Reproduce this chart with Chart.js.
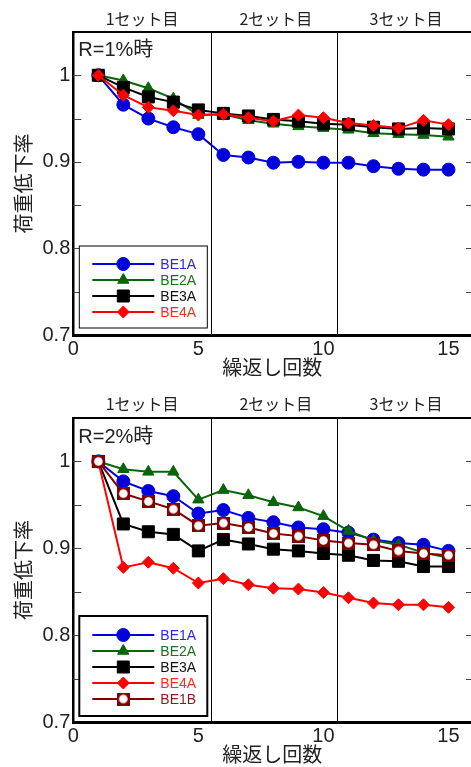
<!DOCTYPE html>
<html>
<head>
<meta charset="utf-8">
<script src="https://cdn.jsdelivr.net/npm/chart.js@4.4.1/dist/chart.umd.min.js"></script>
<style>
html,body{margin:0;padding:0;overflow:hidden;background:#fff;width:471px;height:767px;}
.wrap{position:relative;width:471px;overflow:hidden;}
canvas{display:block;}
</style>
</head>
<body>
<div class="wrap" style="height:383px"><canvas id="c1" width="471" height="383" style="width:471px;height:383px"></canvas></div>
<div class="wrap" style="height:384px"><canvas id="c2" width="471" height="384" style="width:471px;height:384px"></canvas></div>
<script>
// ---------- data ----------
const cycles = [1,2,3,4,5,6,7,8,9,10,11,12,13,14,15];

// R=1%
const r1_BE1A = [1.000,0.966,0.950,0.940,0.932,0.908,0.905,0.899,0.900,0.899,0.899,0.895,0.892,0.891,0.891];
const r1_BE2A = [1.000,0.994,0.985,0.973,0.954,0.955,0.948,0.944,0.941,0.939,0.937,0.933,0.932,0.931,0.929];
const r1_BE3A = [1.000,0.986,0.975,0.969,0.960,0.956,0.953,0.949,0.947,0.944,0.943,0.940,0.938,0.939,0.938];
const r1_BE4A = [1.000,0.977,0.963,0.959,0.954,0.955,0.951,0.947,0.954,0.951,0.945,0.942,0.939,0.948,0.943];

// R=2%
const r2_BE1A = [1.000,0.977,0.966,0.960,0.940,0.944,0.935,0.930,0.924,0.922,0.918,0.910,0.906,0.904,0.897];
const r2_BE2A = [1.000,0.991,0.988,0.988,0.956,0.967,0.961,0.953,0.947,0.937,0.920,0.909,0.904,0.895,0.889];
const r2_BE3A = [1.000,0.928,0.919,0.916,0.897,0.910,0.905,0.899,0.897,0.894,0.892,0.886,0.885,0.879,0.879];
const r2_BE4A = [1.000,0.878,0.884,0.877,0.860,0.865,0.858,0.854,0.853,0.849,0.843,0.837,0.835,0.835,0.832];
const r2_BE1B = [1.000,0.963,0.954,0.945,0.926,0.929,0.924,0.917,0.914,0.909,0.906,0.904,0.897,0.894,0.892];

// axis ticks / labels
const xTickValues = [0,5,10,15];
const xTickLabels = ['0','5','10','15'];
const xMax = 15.9;
const yMajorValues = [0.7,0.8,0.9,1.0];
const yMajorLabels = ['0.7','0.8','0.9','1'];
const yMinorValues = [0.75,0.85,0.95];
const setCenters = [2.75,8.1,13.3];
const setLabels = ['1セット目','2セット目','3セット目'];
const setDividers = [5.5,10.55];
const xTitle = '繰返し回数';
const yTitle = '荷重低下率';
const panelTitles = ['R=1%時','R=2%時'];

// ---------- styles ----------
const LATIN = "'Liberation Sans', 'Noto Sans CJK JP', sans-serif";
const CJK = "'Noto Sans CJK JP', 'Liberation Sans', sans-serif";
const TXT = '#222';

function makeOpenSquare(){
  const c = document.createElement('canvas');
  c.width = 13; c.height = 13;
  const g = c.getContext('2d');
  g.fillStyle = '#800000'; g.fillRect(0,0,13,13);
  g.fillStyle = '#fff'; g.beginPath(); g.arc(6.5,6.5,4.3,0,Math.PI*2); g.fill();
  return c;
}

const styles = {
  BE1A: {color:'#0000dd', text:'#2a2ae0', pointStyle:'circle', radius:6.5},
  BE2A: {color:'#0a640a', text:'#1f6e1f', pointStyle:'triangle', radius:6.5},
  BE3A: {color:'#000000', text:'#111111', pointStyle:'rect', radius:8.5},
  BE4A: {color:'#ff0000', text:'#ff2a2a', pointStyle:'rectRot', radius:6},
  BE1B: {color:'#800000', text:'#8a1a1a', pointStyle:makeOpenSquare(), radius:6.5}
};

function ds(name, values, idx){
  const s = styles[name];
  return {
    label: name,
    data: cycles.map((c,i)=>({x:c, y:values[i]})),
    borderColor: s.color,
    backgroundColor: s.color,
    pointBackgroundColor: s.color,
    pointBorderColor: s.color,
    pointBorderWidth: 1,
    pointStyle: s.pointStyle,
    pointRadius: s.radius,
    borderWidth: 2,
    textColor: s.text,
    order: -idx,
    tension: 0
  };
}

const decor = {
  id: 'decor',
  beforeDatasetsDraw(chart, args, o){
    const {ctx, chartArea: ca, scales} = chart;
    ctx.save();
    ctx.strokeStyle = '#000'; ctx.lineWidth = 1;
    setDividers.forEach(v=>{
      const px = Math.round(scales.x.getPixelForValue(v)) + 0.5;
      ctx.beginPath(); ctx.moveTo(px, ca.top); ctx.lineTo(px, ca.bottom); ctx.stroke();
    });
    ctx.strokeStyle = '#444';
    scales.y.ticks.forEach(t=>{
      if (t.value > 1.04 || t.value < 0.71) return;
      const py = Math.round(scales.y.getPixelForValue(t.value)) + 0.5;
      ctx.beginPath(); ctx.moveTo(ca.left, py); ctx.lineTo(ca.left+8, py); ctx.stroke();
      ctx.beginPath(); ctx.moveTo(ca.right-5, py); ctx.lineTo(ca.right, py); ctx.stroke();
    });
    ctx.restore();
  },
  afterDraw(chart, args, o){
    const {ctx, chartArea: ca} = chart;
    ctx.save();
    // panel title
    ctx.fillStyle = TXT;
    ctx.font = '20px ' + LATIN;
    ctx.textBaseline = 'middle'; ctx.textAlign = 'left';
    ctx.fillText(o.title, ca.left + 5, ca.top + o.titleDy);
    // legend
    const dsets = chart.data.datasets;
    const rowH = 16;
    const h = dsets.length*rowH + o.legPad;
    const x0 = ca.left + 6, y1 = ca.bottom - o.legBottomGap, y0 = y1 - h, w = 128;
    ctx.fillStyle = '#fff'; ctx.fillRect(x0, y0, w, h);
    ctx.lineWidth = o.legBorder; ctx.strokeStyle = '#000';
    ctx.strokeRect(x0, y0, w, h);
    dsets.forEach((d,i)=>{
      const y = y0 + o.legFirst + i*rowH;
      ctx.strokeStyle = d.borderColor; ctx.lineWidth = 2;
      ctx.beginPath(); ctx.moveTo(x0+13, y); ctx.lineTo(x0+75, y); ctx.stroke();
      ctx.fillStyle = d.pointBackgroundColor; ctx.strokeStyle = d.pointBorderColor; ctx.lineWidth = 1;
      Chart.helpers.drawPoint(ctx, {pointStyle: d.pointStyle, radius: d.pointRadius, rotation: 0, borderWidth: 1}, x0+44, y);
      ctx.fillStyle = d.textColor;
      ctx.font = '14px ' + LATIN;
      ctx.textBaseline = 'middle'; ctx.textAlign = 'left';
      ctx.fillText(d.label, x0+81, y+1);
    });
    ctx.restore();
  }
};

function makeChart(id, datasets, p){
  return new Chart(document.getElementById(id), {
    type: 'line',
    data: {datasets},
    plugins: [decor],
    options: {
      responsive: false,
      maintainAspectRatio: false,
      animation: false,
      events: [],
      layout: {autoPadding: false, padding: {left:0, right:0, top:0, bottom:0}},
      plugins: {
        legend: {display:false},
        tooltip: {enabled:false},
        decor: p.decor
      },
      scales: {
        x: {
          type: 'linear', position: 'bottom', min: 0, max: xMax,
          grid: {display:false, drawTicks:false},
          border: {display:true, color:'#000', width:3},
          afterBuildTicks: a => { a.ticks = xTickValues.map(v=>({value:v})); },
          afterFit: a => { a.height = p.bottomH; },
          ticks: {
            autoSkip:false, maxRotation:0, padding: p.xTickPad, color: TXT,
            font: {size:20, family: LATIN},
            callback: (v)=> { const i = xTickValues.indexOf(v); return i>=0 ? xTickLabels[i] : ''; }
          },
          title: {display:true, text:xTitle, color:TXT, font:{size:20, family:CJK}, padding:{top:0,bottom:p.xTitlePad}}
        },
        x2: {
          type: 'linear', position: 'top', min: 0, max: xMax,
          grid: {display:false, drawTicks:false},
          border: {display:true, color:'#000', width:2},
          afterBuildTicks: a => { a.ticks = setCenters.map(v=>({value:v})); },
          afterFit: a => { a.height = p.topH; },
          ticks: {
            autoSkip:false, maxRotation:0, padding: p.setPad, color: TXT,
            font: {size:16, family: CJK},
            callback: (v)=> { const i = setCenters.indexOf(v); return i>=0 ? setLabels[i] : ''; }
          }
        },
        y: {
          type: 'linear', position: 'left', min: 0.7, max: 1.05,
          grid: {display:false, drawTicks:false},
          border: {display:true, color:'#000', width:2.5},
          afterBuildTicks: a => { a.ticks = yMajorValues.concat(yMinorValues).sort((m,n)=>m-n).map(v=>({value:v})); },
          afterFit: a => { a.width = 73.3; },
          ticks: {
            autoSkip:false, padding: 3, color: TXT,
            font: {size:20, family: LATIN},
            callback: (v)=> { const i = yMajorValues.findIndex(m=>Math.abs(m-v)<1e-6); return i>=0 ? yMajorLabels[i] : ''; }
          },
          title: {display:true, text:yTitle, color:TXT, font:{size:20, family:CJK}, padding:{top:11,bottom:0}}
        }
      }
    }
  });
}

makeChart('c1', [
  ds('BE1A', r1_BE1A, 0),
  ds('BE2A', r1_BE2A, 1),
  ds('BE3A', r1_BE3A, 2),
  ds('BE4A', r1_BE4A, 3)
], {
  topH: 32, bottomH: 48, xTickPad: 2, xTitlePad: 4, setPad: 3,
  decor: {title: panelTitles[0], titleDy: 18, legPad: 18, legBottomGap: 7, legFirst: 18, legBorder: 1}
});

makeChart('c2', [
  ds('BE1A', r2_BE1A, 0),
  ds('BE2A', r2_BE2A, 1),
  ds('BE3A', r2_BE3A, 2),
  ds('BE4A', r2_BE4A, 3),
  ds('BE1B', r2_BE1B, 4)
], {
  topH: 35, bottomH: 45, xTickPad: 2, xTitlePad: 1, setPad: 4,
  decor: {title: panelTitles[1], titleDy: 19, legPad: 20, legBottomGap: 6, legFirst: 19, legBorder: 2}
});
</script>
</body>
</html>
